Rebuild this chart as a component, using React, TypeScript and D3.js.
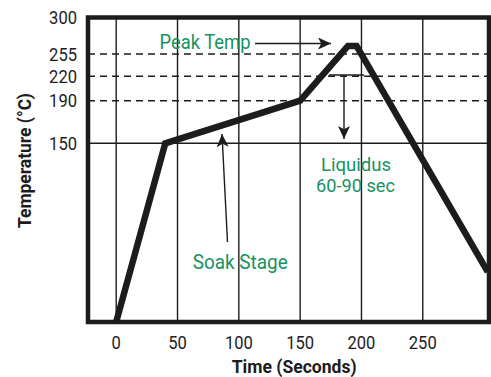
import React from "react";
import * as d3 from "d3";

const profileTime = [0, 40, 150, 189, 196, 303];
const profileTemp = [25, 150, 190, 265, 265, 60];
const xTicks = [0, 50, 100, 150, 200, 250];
const yTicks = [150, 190, 220, 255, 300];
const dashedLevels = [190, 220, 255];
const solidLevels = [150];

const W = 491, H = 377;
const FONT = "Roboto, 'Liberation Sans', Arial, sans-serif";
const GREEN = "#16935f";
const INK = "#1e1b1c";

export default function App() {
  const x = d3.scaleLinear().domain([-23, 304]).range([88, 489]);
  const y = d3.scaleLinear().domain([25, 150, 190, 220, 255, 300]).range([322, 143.3, 100.7, 76.3, 54, 17.5]);
  const line = d3.line<number>().x((_, i) => x(profileTime[i])).y((d) => y(d));
  const path = line(profileTemp) || "";
  const left = x(-23), right = x(304), top = y(300), bottom = y(25);
  const numW = (v: number) => String(v).length * 9.3;

  return (
    <svg width={W} height={H} style={{ position: "absolute", left: 0, top: 0, background: "#fff" }}>
      <defs>
        <marker id="ah" viewBox="0 0 10 10" refX="10" refY="5" markerWidth="13" markerHeight="12" markerUnits="userSpaceOnUse" orient="auto" preserveAspectRatio="none">
          <path d="M0,0 L10,5 L0,10 L2.5,5 Z" fill={INK} />
        </marker>
        <marker id="ah2" viewBox="0 0 10 10" refX="10" refY="5" markerWidth="13" markerHeight="12" markerUnits="userSpaceOnUse" orient="auto" preserveAspectRatio="none">
          <path d="M0,0 L10,5 L0,10 L2.5,5 Z" fill={INK} />
        </marker>
      </defs>
      {xTicks.map((t) => (
        <line key={"gx" + t} x1={x(t)} x2={x(t)} y1={top} y2={bottom} stroke={INK} strokeWidth={1.4} />
      ))}
      {xTicks.map((t) => (
        <text key={"tx" + t} x={x(t) - numW(t) / 2} y={349} textLength={numW(t)} lengthAdjust="spacingAndGlyphs" fontFamily={FONT} fontSize={19} fill={INK}>{t}</text>
      ))}
      {solidLevels.map((v) => (
        <line key={"s" + v} x1={left} x2={right} y1={y(v)} y2={y(v)} stroke={INK} strokeWidth={1.4} />
      ))}
      {dashedLevels.map((v) => (
        <line key={"d" + v} x1={left} x2={right} y1={y(v)} y2={y(v)} stroke={INK} strokeWidth={1.4} strokeDasharray="7,5" />
      ))}
      {yTicks.map((v) => (
        <text key={"ty" + v} x={77 - numW(v)} y={y(v) + 6.5} textLength={numW(v)} lengthAdjust="spacingAndGlyphs" fontFamily={FONT} fontSize={18.5} fill={INK}>{v}</text>
      ))}
      <rect x={left} y={top} width={right - left} height={bottom - top} fill="none" stroke={INK} strokeWidth={4.5} />
      <path d={path} fill="none" stroke={INK} strokeWidth={6.5} strokeLinejoin="miter" />
      {/* Peak temp annotation */}
      <text x={159.5} y={49} textLength={91} lengthAdjust="spacingAndGlyphs" fontFamily={FONT} fontSize={21} fill={GREEN}>Peak Temp</text>
      <line x1={255} x2={331} y1={43.5} y2={43.5} stroke={INK} strokeWidth={1.4} markerEnd="url(#ah)" />
      {/* Liquidus */}
      <line x1={329} x2={364} y1={75} y2={75} stroke={INK} strokeWidth={1.5} />
      <line x1={344} x2={344} y1={75} y2={139} stroke={INK} strokeWidth={1.4} markerEnd="url(#ah2)" />
      <text x={321} y={170.8} textLength={70} lengthAdjust="spacingAndGlyphs" fontFamily={FONT} fontSize={18} fill={GREEN}>Liquidus</text>
      <text x={316} y={192} textLength={79} lengthAdjust="spacingAndGlyphs" fontFamily={FONT} fontSize={18} fill={GREEN}>60-90 sec</text>
      {/* Soak stage */}
      <line x1={227.5} x2={222} y1={242} y2={134} stroke={INK} strokeWidth={1.4} markerEnd="url(#ah2)" />
      <text x={192.7} y={269} textLength={95} lengthAdjust="spacingAndGlyphs" fontFamily={FONT} fontSize={21} fill={GREEN}>Soak Stage</text>
      {/* axis titles */}
      <text x={231.7} y={372.5} textLength={125} lengthAdjust="spacingAndGlyphs" fontFamily={FONT} fontSize={18} fontWeight="bold" fill={INK}>Time (Seconds)</text>
      <text transform={`translate(30.5,228) rotate(-90)`} textLength={135} lengthAdjust="spacingAndGlyphs" fontFamily={FONT} fontSize={18.5} fontWeight="bold" fill={INK}>Temperature (°C)</text>
    </svg>
  );
}
